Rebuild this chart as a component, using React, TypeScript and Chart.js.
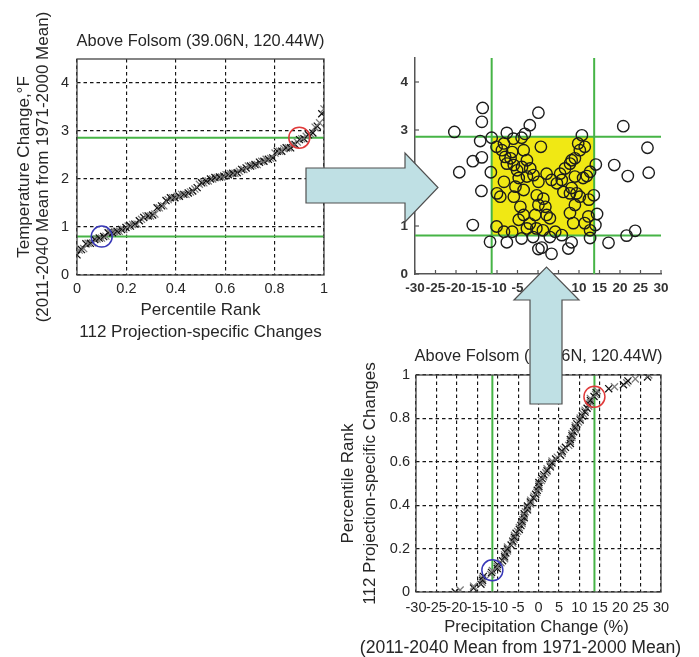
import React, { useEffect, useRef } from 'react';
import { Chart, registerables } from 'chart.js';

Chart.register(...registerables);

const FONT = "'Liberation Sans', Arial, Helvetica, sans-serif";
const TEXT = '#262626';

const stationTitle = 'Above Folsom (39.06N, 120.44W)';

// 112 projection-specific changes (precip %, temperature °F)
const precipChange = [
  -20.4, -13.5, -13.7, -14.1, -15.9, -13.7, -19.2, -13.8, -15.9, -11.7,
  -11.3, -11.5, -7.6, -4.0, -1.2, 0.1, 0.9, 3.3, 2.9, 5.8,
  7.4, 8.2, 12.7, 17.2, 21.6, 23.7, 20.8, 26.7, 27.0, 21.9,
  18.6, 14.1, 14.4, 14.0, 13.6, 12.4, 0.1, -2.0, -3.2, -7.6,
  10.7, -4.0, -6.0, -10.1, -8.8, -8.0, -6.7, -7.6, -5.9, -5.1,
  -3.9, -2.7, -1.9, -1.1, -2.7, -4.7, -5.5, -8.3, -10.0, 0.7,
  -6.3, -8.3, -3.5, 2.1, 0.1, -0.3, 1.3, 1.8, 0.1, -0.7,
  -3.5, -2.0, -0.4, 1.2, -10.1, -8.3, -6.3, 4.2, 4.6, 5.8,
  6.6, 7.8, 9.0, 10.2, 9.8, 8.2, 9.0, 11.0, 8.2, 9.4,
  7.8, 10.2, 9.0, 7.8, 8.6, 12.3, 12.7, 11.4, 5.4, 3.3,
  12.7, 11.9, -9.2, -3.5, -5.9, -4.3, 2.1, 2.9, -2.7, -4.7,
  11.4, 6.2,
];
const tempChange = [
  2.96, 3.46, 3.17, 2.77, 2.35, 2.43, 2.12, 1.73, 1.02, 0.67,
  2.84, 2.12, 0.66, 0.74, 0.77, 0.52, 0.55, 0.42, 0.77, 0.81,
  0.53, 0.66, 0.75, 0.65, 0.80, 0.90, 3.08, 2.63, 2.11, 2.04,
  2.27, 2.28, 1.25, 1.02, 1.64, 1.55, 3.36, 3.10, 2.92, 2.94,
  2.89, 2.84, 2.82, 2.65, 2.58, 2.44, 2.41, 2.30, 2.27, 2.16,
  2.23, 2.37, 2.20, 2.06, 2.03, 2.00, 1.82, 1.92, 1.68, 2.65,
  2.54, 2.72, 2.58, 2.09, 1.92, 1.64, 1.57, 1.40, 1.44, 1.23,
  1.23, 1.05, 0.95, 0.91, 0.99, 0.88, 0.88, 0.88, 1.89, 1.96,
  2.20, 2.30, 2.41, 2.58, 2.72, 2.37, 2.03, 2.00, 1.79, 1.68,
  1.68, 1.61, 1.44, 1.27, 1.06, 1.20, 0.91, 1.06, 2.09, 1.96,
  2.13, 2.04, 1.61, 1.75, 1.61, 1.40, 1.23, 1.16, 0.95, 1.13,
  2.65, 1.71,
];

const percentileRanks = [0.1, 0.9];
const tempPercentiles = [0.8, 2.86];
const precipPercentiles = [-11.3, 13.7];

const rankTicks = [0, 0.2, 0.4, 0.6, 0.8, 1];
const tempTicks = [0, 1, 2, 3, 4];
const precipTicks = [-30, -25, -20, -15, -10, -5, 0, 5, 10, 15, 20, 25, 30];
const tempMax = 4.5;

const tempTitle = ['Temperature Change,°F', '(2011-2040 Mean from 1971-2000 Mean)'];
const rankTitle = ['Percentile Rank', '112 Projection-specific Changes'];
const precipTitle = ['Precipitation Change (%)', '(2011-2040 Mean from 1971-2000 Mean)'];

const GREEN = '#46b446';
const YELLOW = '#f0e814';
const GRID = '#151515';

const n = tempChange.length;
const tempRankPoints = [...tempChange].sort((a, b) => a - b).map((y, i) => ({ x: i / (n - 1), y }));
const precipRankPoints = [...precipChange].sort((a, b) => a - b).map((x, i) => ({ x, y: i / (n - 1) }));

const panelTitle = {
  id: 'panelTitle',
  afterDraw(chart: any, _args: any, opts: any) {
    if (!opts || !opts.text) return;
    const { ctx, chartArea } = chart;
    ctx.save();
    ctx.font = `${opts.size}px ${FONT}`;
    ctx.fillStyle = TEXT;
    ctx.textAlign = 'center';
    ctx.textBaseline = 'middle';
    ctx.fillText(opts.text, (chartArea.left + chartArea.right) / 2, chartArea.top - opts.offset);
    ctx.restore();
  },
};

// multi-line x-axis title drawn without Chart.js' maxWidth squeeze
const wideXTitle = {
  id: 'wideXTitle',
  afterDraw(chart: any, _args: any, opts: any) {
    if (!opts || !opts.lines) return;
    const { ctx, chartArea } = chart;
    const cx = (chartArea.left + chartArea.right) / 2;
    ctx.save();
    ctx.fillStyle = TEXT;
    ctx.textAlign = 'center';
    ctx.textBaseline = 'middle';
    opts.lines.forEach((t: string, i: number) => {
      ctx.font = `${opts.sizes[i]}px ${FONT}`;
      ctx.fillText(t, cx + opts.shifts[i], chartArea.bottom + opts.offsets[i]);
    });
    ctx.restore();
  },
};

const frame = {
  id: 'frame',
  afterDraw(chart: any) {
    const { ctx, chartArea } = chart;
    ctx.save();
    ctx.strokeStyle = '#444';
    ctx.lineWidth = 1.3;
    ctx.strokeRect(chartArea.left, chartArea.top, chartArea.right - chartArea.left, chartArea.bottom - chartArea.top);
    ctx.restore();
  },
};

const innerTicks = {
  id: 'innerTicks',
  afterDraw(chart: any) {
    const { ctx, chartArea, scales } = chart;
    ctx.save();
    ctx.strokeStyle = '#555';
    ctx.lineWidth = 1.2;
    scales.x.ticks.forEach((t: any) => {
      const px = scales.x.getPixelForValue(t.value);
      ctx.beginPath();
      ctx.moveTo(px, chartArea.bottom);
      ctx.lineTo(px, chartArea.bottom - 4);
      ctx.stroke();
    });
    scales.y.ticks.forEach((t: any) => {
      const py = scales.y.getPixelForValue(t.value);
      ctx.beginPath();
      ctx.moveTo(chartArea.left, py);
      ctx.lineTo(chartArea.left + 4, py);
      ctx.stroke();
    });
    ctx.restore();
  },
};

const tickFont = { family: FONT, size: 14.5 };
const setTicks = (vals: number[]) => (s: any) => {
  s.ticks = vals.map((v) => ({ value: v }));
};
const tickOpts = (padding: number, extra: any = {}) => ({
  color: TEXT,
  font: tickFont,
  padding,
  autoSkip: false,
  maxRotation: 0,
  minRotation: 0,
  callback: (v: any) => String(v),
  ...extra,
});
const dashedGrid = { color: GRID, lineWidth: 1.15, drawTicks: false };
const dashedBorder = { display: false, dash: [3.5, 3] };
const axisTitle = (text: string[], lh: number, padding: any) => ({
  display: true,
  text,
  color: TEXT,
  font: { family: FONT, size: 17, lineHeight: `${lh}px` },
  padding,
});

const line = (data: any[], color: string, width: number, order: number) => ({
  type: 'line',
  data,
  borderColor: color,
  borderWidth: width,
  pointRadius: 0,
  showLine: true,
  fill: false,
  order,
});
const ring = (pt: any, color: string) => ({
  type: 'line',
  data: [pt],
  showLine: false,
  pointStyle: 'circle',
  pointRadius: 10.5,
  pointBorderWidth: 1.5,
  pointBorderColor: color,
  pointBackgroundColor: 'rgba(0,0,0,0)',
  order: 0,
});
const crossColor = (c: any) => (c.dataIndex % 2 === 0 ? '#111' : '#7c7c7c');
const crosses = (data: any[]) => ({
  type: 'line',
  data,
  showLine: false,
  pointStyle: 'crossRot',
  pointRadius: 5,
  pointBorderWidth: 1.25,
  pointBorderColor: crossColor,
  order: 1,
});

const baseOpts = {
  responsive: false,
  animation: false as const,
  events: [] as any[],
  plugins: { legend: { display: false }, tooltip: { enabled: false } },
};

function makeTempRank(canvas: HTMLCanvasElement) {
  return new Chart(canvas, {
    type: 'line',
    data: {
      datasets: [
        ring({ x: percentileRanks[0], y: tempPercentiles[0] }, '#3838b8'),
        ring({ x: percentileRanks[1], y: tempPercentiles[1] }, '#e03a3a'),
        crosses(tempRankPoints),
        line([{ x: 0, y: tempPercentiles[0] }, { x: 1, y: tempPercentiles[0] }], GREEN, 2, 2),
        line([{ x: 0, y: tempPercentiles[1] }, { x: 1, y: tempPercentiles[1] }], GREEN, 2, 2),
      ] as any,
    },
    options: {
      ...baseOpts,
      layout: { padding: { left: 0, right: 16, top: 59, bottom: 0 } },
      plugins: { ...baseOpts.plugins, panelTitle: { text: stationTitle, size: 16.4, offset: 17.5 } } as any,
      scales: {
        x: {
          type: 'linear', min: 0, max: 1,
          afterBuildTicks: setTicks(rankTicks),
          afterFit: (s: any) => { s.height = 70; },
          ticks: tickOpts(5),
          grid: dashedGrid,
          border: dashedBorder,
          title: axisTitle(rankTitle, 22, { top: 0, bottom: 2 }),
        },
        y: {
          type: 'linear', min: 0, max: tempMax,
          afterBuildTicks: setTicks(tempTicks),
          afterFit: (s: any) => { s.width = 77; },
          ticks: tickOpts(8),
          grid: dashedGrid,
          border: dashedBorder,
          title: axisTitle(tempTitle, 19, { top: 14.5, bottom: 0 }),
        },
      } as any,
    },
    plugins: [panelTitle, frame],
  } as any);
}

function makeScatter(canvas: HTMLCanvasElement) {
  const pts = precipChange.map((x, i) => ({ x, y: tempChange[i] }));
  const [px10, px90] = precipPercentiles;
  const [ty10, ty90] = tempPercentiles;
  return new Chart(canvas, {
    type: 'line',
    data: {
      datasets: [
        {
          type: 'line',
          data: pts,
          showLine: false,
          pointStyle: 'circle',
          pointRadius: 5.7,
          pointBorderWidth: 1.4,
          pointBorderColor: '#1c1c1c',
          pointBackgroundColor: 'rgba(0,0,0,0)',
          order: 0,
        },
        line([{ x: -30, y: ty10 }, { x: 30, y: ty10 }], GREEN, 2, 1),
        line([{ x: -30, y: ty90 }, { x: 30, y: ty90 }], GREEN, 2, 1),
        line([{ x: px10, y: 0 }, { x: px10, y: tempMax }], GREEN, 2, 1),
        line([{ x: px90, y: 0 }, { x: px90, y: tempMax }], GREEN, 2, 1),
        {
          type: 'line',
          data: [{ x: px10, y: ty90 }, { x: px90, y: ty90 }],
          borderWidth: 0,
          pointRadius: 0,
          backgroundColor: YELLOW,
          fill: '+1',
          order: 3,
        },
        {
          type: 'line',
          data: [{ x: px10, y: ty10 }, { x: px90, y: ty10 }],
          borderWidth: 0,
          pointRadius: 0,
          fill: false,
          order: 4,
        },
      ] as any,
    },
    options: {
      ...baseOpts,
      layout: { padding: { left: 0, right: 38, top: 18, bottom: 0 } },
      scales: {
        x: {
          type: 'linear', min: -30, max: 30,
          afterBuildTicks: setTicks(precipTicks),
          afterFit: (s: any) => { s.height = 36; },
          ticks: tickOpts(6, { color: '#333', font: { family: FONT, size: 13.5, weight: 'bold' } }),
          grid: { display: false, drawTicks: false },
          border: { display: true, color: '#555', width: 1.5 },
        },
        y: {
          type: 'linear', min: 0, max: tempMax,
          afterBuildTicks: setTicks(tempTicks),
          afterFit: (s: any) => { s.width = 75; },
          ticks: tickOpts(7, { color: '#333', font: { family: FONT, size: 13.5, weight: 'bold' } }),
          grid: { display: false, drawTicks: false },
          border: { display: true, color: '#555', width: 1.5 },
        },
      } as any,
    },
    plugins: [innerTicks],
  } as any);
}

function makePrecipRank(canvas: HTMLCanvasElement) {
  return new Chart(canvas, {
    type: 'line',
    data: {
      datasets: [
        ring({ x: precipPercentiles[0], y: percentileRanks[0] }, '#3838b8'),
        ring({ x: precipPercentiles[1], y: percentileRanks[1] }, '#e03a3a'),
        crosses(precipRankPoints),
        line([{ x: precipPercentiles[0], y: 0 }, { x: precipPercentiles[0], y: 1 }], GREEN, 2, 2),
        line([{ x: precipPercentiles[1], y: 0 }, { x: precipPercentiles[1], y: 1 }], GREEN, 2, 2),
      ] as any,
    },
    options: {
      ...baseOpts,
      layout: { padding: { left: 0, right: 38, top: 35, bottom: 0 } },
      plugins: {
        ...baseOpts.plugins,
        panelTitle: { text: stationTitle, size: 16.4, offset: 19 },
        wideXTitle: { lines: precipTitle, sizes: [16.6, 17.6], offsets: [35, 56], shifts: [-2, -18] },
      } as any,
      scales: {
        x: {
          type: 'linear', min: -30, max: 30,
          afterBuildTicks: setTicks(precipTicks),
          afterFit: (s: any) => { s.height = 66; },
          ticks: tickOpts(7),
          grid: dashedGrid,
          border: dashedBorder,
        },
        y: {
          type: 'linear', min: 0, max: 1,
          afterBuildTicks: setTicks(rankTicks),
          afterFit: (s: any) => { s.width = 86; },
          ticks: tickOpts(6),
          grid: dashedGrid,
          border: dashedBorder,
          title: axisTitle(rankTitle, 22, { top: 7, bottom: 0 }),
        },
      } as any,
    },
    plugins: [panelTitle, frame, wideXTitle],
  } as any);
}

export default function App() {
  const c1 = useRef<HTMLCanvasElement>(null);
  const c2 = useRef<HTMLCanvasElement>(null);
  const c3 = useRef<HTMLCanvasElement>(null);

  useEffect(() => {
    const charts = [
      makeTempRank(c1.current!),
      makeScatter(c2.current!),
      makePrecipRank(c3.current!),
    ];
    return () => charts.forEach((c) => c.destroy());
  }, []);

  const abs = (left: number, top: number, w: number, h: number): React.CSSProperties => ({
    position: 'absolute', left, top, width: w, height: h,
  });

  return (
    <div style={{ position: 'absolute', left: 0, top: 0, width: 699, height: 657, overflow: 'hidden', background: '#fff' }}>
      <canvas ref={c1} width={340} height={345} style={abs(0, 0, 340, 345)} />
      <canvas ref={c2} width={359} height={270} style={abs(340, 40, 359, 270)} />
      <canvas ref={c3} width={369} height={318} style={abs(330, 340, 369, 318)} />
      <svg width={699} height={657} style={{ position: 'absolute', left: 0, top: 0, pointerEvents: 'none' }}>
        <polygon
          points="306,168 405,168 405,153 438,187.5 405,222 405,203 306,203"
          fill="#bfe0e4" stroke="#505050" strokeWidth={1.2}
        />
        <polygon
          points="530,404 530,300 514,300 546.5,267 579,300 562,300 562,404"
          fill="#bfe0e4" stroke="#505050" strokeWidth={1.2}
        />
      </svg>
    </div>
  );
}
